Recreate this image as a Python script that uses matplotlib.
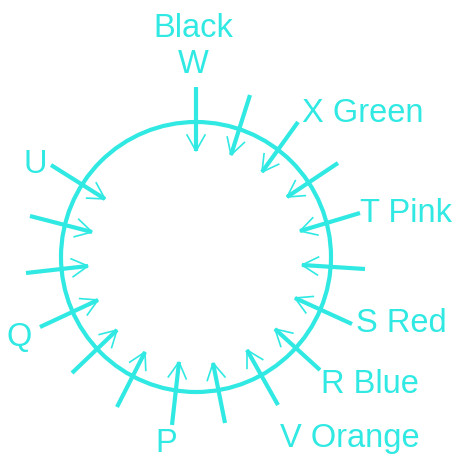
import numpy as np
import matplotlib
matplotlib.use("Agg")
import matplotlib.pyplot as plt
from matplotlib.patches import Circle

COLOR = "#30e9e3"

# circle (pixel coordinates, y down)
circle_center = (196, 257)
circle_radius = 135

# arrows: start (outside) -> tip (inside)
arrow_x0 = [196, 250, 298, 338, 360, 365, 352, 320, 278, 225, 172, 117, 72, 40, 26, 30, 51]
arrow_y0 = [87, 95, 122, 163, 213, 269, 324, 370, 405, 423, 425, 407, 373, 327, 273, 216, 165]
arrow_x1 = [196, 231, 262, 287, 300, 302, 295, 275, 247, 213, 179, 145, 117, 98, 88, 92, 105]
arrow_y1 = [151, 155, 172, 197, 231, 265, 298, 329, 350, 363, 362, 352, 330, 300, 266, 232, 199]

# labels
labels = ["Black", "W", "X Green", "T Pink", "S Red", "R Blue", "V Orange", "P", "Q", "U"]
label_x = [193, 193, 302, 360, 356, 321, 280, 155, 7, 23]
label_y = [37, 73, 122, 222, 332, 393, 447, 452, 346, 173]
label_ha = ["center", "center", "left", "left", "left", "left", "left", "left", "left", "left"]

W, H = 457, 459
fig = plt.figure(figsize=(W / 100, H / 100), dpi=100)
ax = fig.add_axes([0, 0, 1, 1])
ax.set_xlim(0, W)
ax.set_ylim(H, 0)
ax.set_aspect("equal")
ax.axis("off")

ax.add_patch(Circle(circle_center, circle_radius, fill=False, edgecolor=COLOR, linewidth=3.0))

head_len, head_half = 16, 9
for x0, y0, x1, y1 in zip(arrow_x0, arrow_y0, arrow_x1, arrow_y1):
    ax.plot([x0, x1], [y0, y1], color=COLOR, linewidth=3.0, solid_capstyle="butt")
    d = np.array([x1 - x0, y1 - y0], dtype=float)
    d /= np.linalg.norm(d)
    n = np.array([-d[1], d[0]])
    tip = np.array([x1, y1], dtype=float)
    base = tip - d * head_len
    p1 = base + n * head_half
    p2 = base - n * head_half
    ax.plot([p1[0], tip[0], p2[0]], [p1[1], tip[1], p2[1]], color=COLOR,
            linewidth=1.2, solid_joinstyle="miter")

for t, x, y, ha in zip(labels, label_x, label_y, label_ha):
    ax.text(x, y, t, color=COLOR, fontsize=23.5, family="Liberation Sans",
            ha=ha, va="baseline")

fig.savefig("out.png", dpi=100, facecolor="white")
